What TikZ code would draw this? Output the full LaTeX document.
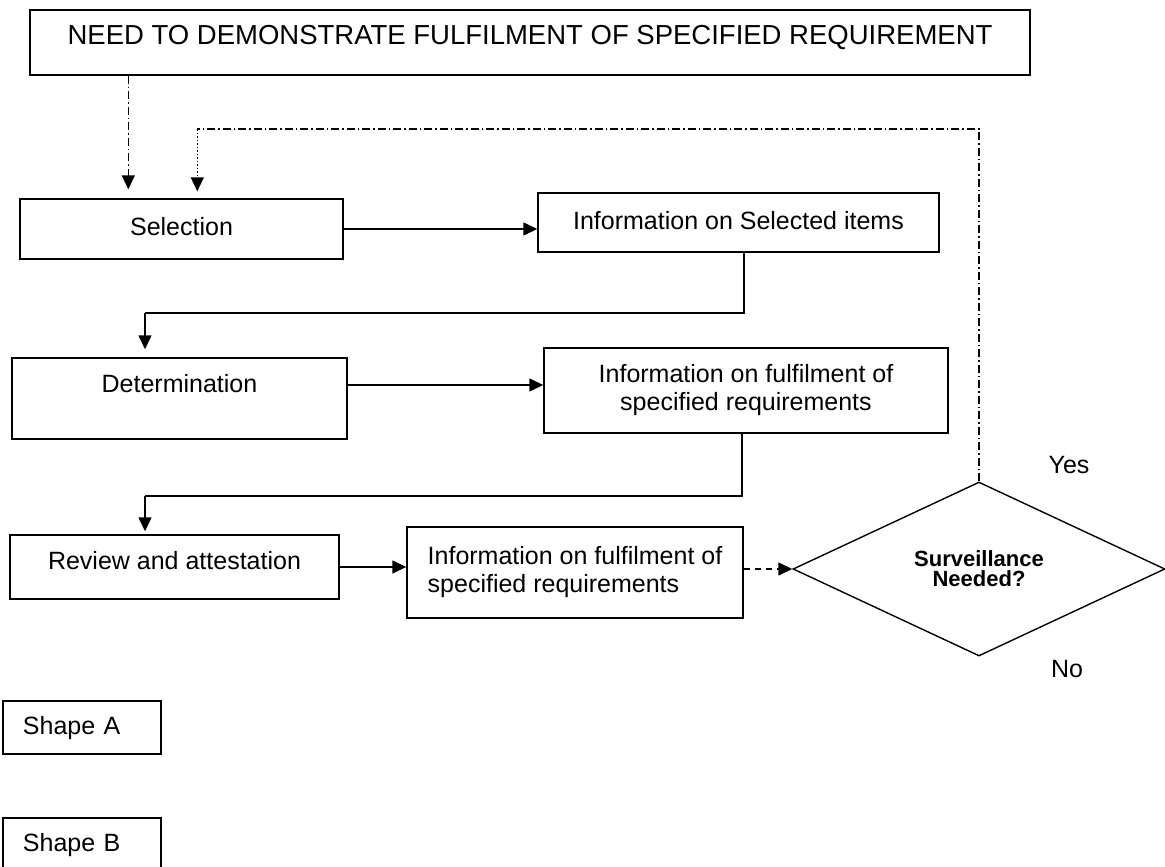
\documentclass[tikz,border=0pt]{standalone}
\usepackage{fontspec}
\setmainfont{Liberation Sans}
\usetikzlibrary{arrows.meta,shapes.geometric}

\tikzset{
    >={Triangle[length=14pt,width=13pt]},
    box/.style={draw, line width=1.4pt, inner sep=0pt, font=\fontsize{25}{28}\selectfont},
    oneline/.style={text height=18pt, text depth=5pt},
    ddash/.style={line width=1.4pt, dash pattern=on 8pt off 3pt on 1.5pt off 3pt},
    ddot/.style={line width=1.4pt, dash pattern=on 1.5pt off 2pt},
    flow/.style={line width=1.4pt, ->},
}

\begin{document}
\begin{tikzpicture}[x=1pt, y=-1pt]
            \useasboundingbox (0,0) rectangle (1165,867);

            % boxes
            \node[box, oneline, text depth=14pt, minimum width=1000pt, minimum height=65pt, font=\fontsize{27.5}{30}\selectfont] (need) at (530,42.5) {NEED TO DEMONSTRATE FULFILMENT OF SPECIFIED REQUIREMENT};
            \node[box, oneline, minimum width=323pt, minimum height=60pt] (sel) at (181.5,229) {Selection};
            \node[box, oneline, minimum width=401pt, minimum height=59pt] (infosel) at (738.5,222.5) {Information on Selected items};
            \node[box, oneline, text depth=31pt, minimum width=335pt, minimum height=81pt] (det) at (179.5,398.5) {Determination};
            \node[box, align=center, minimum width=404pt, minimum height=85pt] (infoful) at (746,390.5) {Information on fulfilment of\\specified requirements};
            \node[box, oneline, text depth=14pt, minimum width=329pt, minimum height=64pt] (rev) at (174.5,567) {Review and attestation};
            \node[box, align=left, minimum width=336pt, minimum height=91pt] (inforev) at (575,572.5) {Information on fulfilment of\\specified requirements};
            \node[draw, diamond, line width=1.4pt, inner sep=0pt, minimum width=372pt, minimum height=174pt, align=center, font=\bfseries\fontsize{22}{20}\selectfont] (surv) at (979,569) {Surveillance\\Needed?};
            \node[font=\fontsize{25}{28}\selectfont] (yes) at (1069,465) {Yes};
            \node[font=\fontsize{25}{28}\selectfont] (no) at (1067,669) {No};

            \node[box, oneline, align=left, text width=118pt, inner xsep=20pt, minimum height=53pt] (shpA) at (82,727.5) {Shape A};
            \node[box, oneline, align=left, text width=118pt, inner xsep=20pt, minimum height=53pt] (shpB) at (82,844.5) {Shape B};

            % helper points
            \path (sel.north west) ++(109,-9) coordinate (inA);
            \path (sel.north west) ++(178,-7) coordinate (inB);
            \coordinate (loop) at (0,129);
            \coordinate (bendA) at (145,313);
            \coordinate (bendB) at (145,496);

            % connectors
            \draw[ddash, ->] (need.south -| inA) -- (inA);
            \draw[ddash] (surv.north) -- (surv.north |- loop) -- (inB |- loop);
            \draw[ddot, ->] (inB |- loop) -- (inB);

            \draw[flow] (sel.east) -- (sel.east -| infosel.west);
            \draw[line width=1.4pt] (infosel.south -| 744,0) -- (bendA -| 744,0) -- (bendA);
            \draw[flow] (bendA) -- ([yshift=8pt]det.north -| bendA);

            \draw[flow] ([yshift=13.5pt]det.east) -- ([yshift=13.5pt]det.east -| infoful.west);
            \draw[line width=1.4pt] (infoful.south -| 742,0) -- (bendB -| 742,0) -- (bendB);
            \draw[flow] (bendB) -- ([yshift=3pt]rev.north -| bendB);

            \draw[flow] (rev.east) -- (rev.east -| inforev.west);
            \draw[line width=1.4pt, dash pattern=on 6pt off 5pt, ->] (surv.west -| inforev.east) -- (surv.west);
    \end{tikzpicture}
\end{document}
